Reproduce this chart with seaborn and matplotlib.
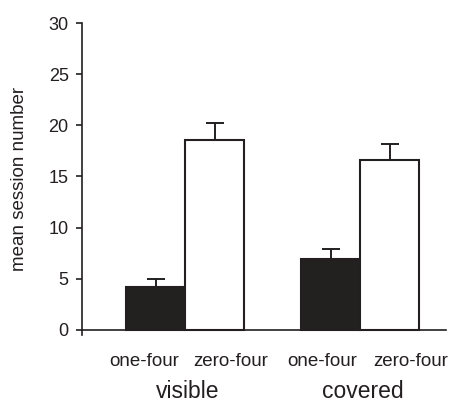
import matplotlib
matplotlib.use("Agg")
import matplotlib.pyplot as plt
import numpy as np
import pandas as pd
import seaborn as sns

# values
conditions = ["visible", "covered"]
groups = ["one-four", "zero-four"]
means = [4.2, 18.6, 6.9, 16.6]
sems = [0.8, 1.6, 1.0, 1.6]
sub_labels = ["one-four", "zero-four", "one-four", "zero-four"]

df = pd.DataFrame({
    "condition": np.repeat(conditions, 2),
    "group": groups * 2,
    "mean": means,
    "sem": sems,
})

sns.set_style("ticks")
plt.rcParams["font.family"] = ["Liberation Sans", "DejaVu Sans"]

fig = plt.figure(figsize=(4.6, 4.04), dpi=100)
ax = fig.add_axes([0.178, 0.171, 0.792, 0.772])

sns.barplot(data=df, x="condition", y="mean", hue="group", order=conditions,
            hue_order=groups, palette=["#231f20", "white"], edgecolor="#231f20",
            linewidth=1.5, width=0.674, errorbar=None, legend=False, ax=ax)

# upward-only error bars on each bar
for bar in ax.patches:
    xc = bar.get_x() + bar.get_width() / 2
    h = bar.get_height()
    row = df[np.isclose(df["mean"], h)].iloc[0]
    ax.errorbar(xc, h, yerr=[[0], [row["sem"]]], fmt="none", ecolor="#231f20",
                elinewidth=1.4, capsize=6.5, capthick=1.4, zorder=1)

ax.set_ylim(-0.5, 30)
ax.set_xlim(-0.589, 1.491)
ax.set_yticks(range(0, 31, 5))
ax.tick_params(axis="y", direction="out", length=4.5, width=1.2,
               labelsize=13, colors="#231f20", pad=5)
ax.spines["bottom"].set_position(("data", 0))
for s in ["left", "bottom"]:
    ax.spines[s].set_linewidth(1.2)
    ax.spines[s].set_color("#231f20")
sns.despine(ax=ax)

ax.set_xticks([-0.234, 0.263, 0.783, 1.286])
ax.set_xticklabels(sub_labels)
ax.tick_params(axis="x", length=0, labelsize=13.5, pad=17, colors="#231f20")
ax.set_xlabel("")
ax.set_ylabel("mean session number", fontsize=13.5, color="#231f20")
ax.yaxis.set_label_coords(-0.148, 0.5)

for i, c in enumerate(conditions):
    ax.text(i + 0.015, -0.203, c, transform=ax.get_xaxis_transform(),
            ha="center", va="baseline", fontsize=16.5, color="#231f20")

fig.savefig("out.png", dpi=100)
